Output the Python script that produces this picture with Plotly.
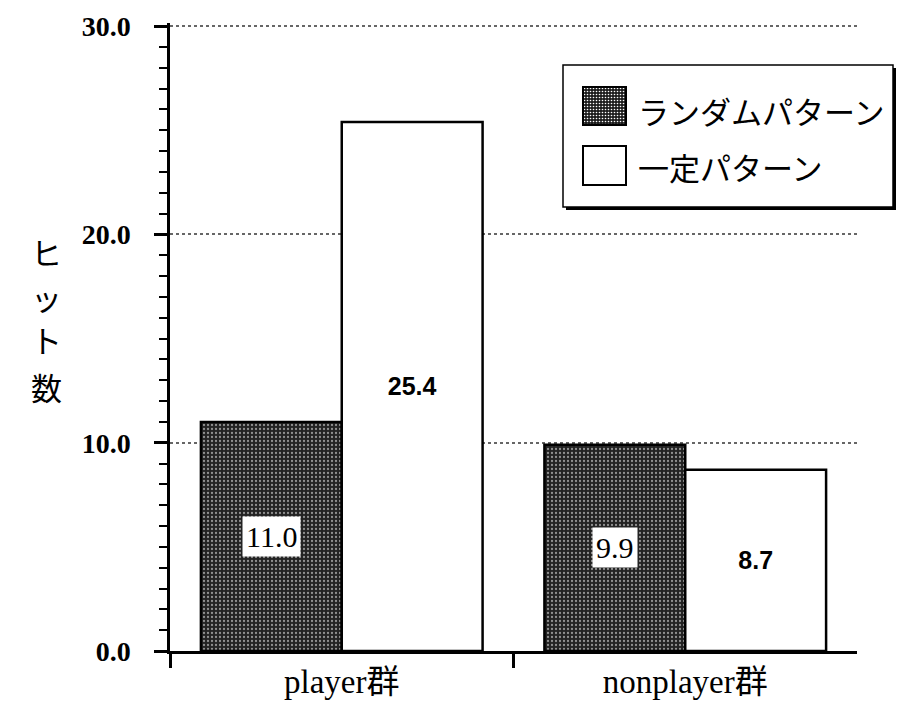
import base64
import plotly.graph_objects as go

categories = ["player群", "nonplayer群"]
series_names = ["ランダムパターン", "一定パターン"]
random_vals = [11.0, 9.9]
constant_vals = [25.4, 8.7]
y_tick_vals = [0, 10, 20, 30]
y_title_chars = ["ヒ", "ッ", "ト", "数"]

W, H = 902, 701
L, R, T, B = 170, 45, 23, 50
PW, PH = W - L - R, H - T - B
Y_MAX = 30.15
BARGAP = 0.18

x_pos = list(range(len(categories)))


def px_x(px):
    return (px - L) / PW


def px_y(py):
    return (H - B - py) / PH


SERIF = "Liberation Serif, Times New Roman, Noto Sans CJK JP, serif"
SANS = "Liberation Sans, Arial, sans-serif"
CJK = "Noto Sans CJK JP, sans-serif"

fig = go.Figure()
fig.add_trace(go.Bar(
    x=x_pos, y=random_vals, name=series_names[0],
    marker=dict(color="#222222",
                line=dict(color="black", width=2.5),
                pattern=dict(shape=".", fgcolor="white", bgcolor="#222222",
                             size=4, solidity=0.25, fillmode="overlay")),
    showlegend=False,
))
fig.add_trace(go.Bar(
    x=x_pos, y=constant_vals, name=series_names[1],
    marker=dict(color="white", line=dict(color="black", width=2.5)),
    texttemplate="%{y:.1f}", textposition="inside", insidetextanchor="middle",
    textangle=0,
    textfont=dict(family=SANS, size=25, color="black", weight="bold"),
    showlegend=False,
))

# white-box value labels for the patterned bars
cat_px = PW / len(categories)
offset_px = (1 - BARGAP) * cat_px / 4
for xp, v in zip(x_pos, random_vals):
    fig.add_annotation(x=xp, y=v / 2, xref="x", yref="y", xshift=-offset_px,
                       text=f"{v:.1f}", showarrow=False, bgcolor="white",
                       borderpad=3,
                       font=dict(family=SERIF, size=30, color="black"))

# y-axis title, stacked characters
for ch, py in zip(y_title_chars, [252, 296, 340, 386]):
    fig.add_annotation(x=px_x(29), y=px_y(py), xref="paper", yref="paper",
                       text=ch, showarrow=False, yanchor="middle",
                       font=dict(family=CJK, size=31, color="black"))

# custom legend
svg = ('<svg xmlns="http://www.w3.org/2000/svg" width="43" height="38">'
       '<defs><pattern id="p" width="3" height="3" patternUnits="userSpaceOnUse">'
       '<rect width="3" height="3" fill="#1e1e1e"/>'
       '<circle cx="1.5" cy="1.5" r="0.8" fill="white"/></pattern></defs>'
       '<rect width="43" height="38" fill="url(#p)"/></svg>')
svg_uri = "data:image/svg+xml;base64," + base64.b64encode(svg.encode()).decode()

shapes = []
shapes.append(dict(type="rect", xref="paper", yref="paper", layer="below",
                   x0=px_x(566), x1=px_x(896), y0=px_y(210), y1=px_y(68),
                   fillcolor="black", line=dict(width=0)))
shapes.append(dict(type="rect", xref="paper", yref="paper", layer="below",
                   x0=px_x(563), x1=px_x(893), y0=px_y(207), y1=px_y(65),
                   fillcolor="white", line=dict(color="black", width=1.5)))
shapes.append(dict(type="rect", xref="paper", yref="paper",
                   x0=px_x(583), x1=px_x(626), y0=px_y(125), y1=px_y(87),
                   fillcolor="rgba(0,0,0,0)", line=dict(color="black", width=2),
                   layer="above"))
shapes.append(dict(type="rect", xref="paper", yref="paper",
                   x0=px_x(583), x1=px_x(626), y0=px_y(185), y1=px_y(146),
                   fillcolor="white", line=dict(color="black", width=2)))
fig.update_layout(shapes=shapes)
fig.add_layout_image(dict(source=svg_uri, xref="paper", yref="paper",
                          x=px_x(583), y=px_y(87),
                          sizex=px_x(626) - px_x(583), sizey=px_y(87) - px_y(125),
                          xanchor="left", yanchor="top", sizing="stretch",
                          layer="above"))
for name, py in zip(series_names, [110, 166]):
    fig.add_annotation(x=px_x(636), y=px_y(py), xref="paper", yref="paper",
                       xanchor="left", yanchor="middle", text=name,
                       showarrow=False,
                       font=dict(family=CJK, size=31, color="black"))

fig.update_layout(
    width=W, height=H,
    margin=dict(l=L, r=R, t=T, b=B),
    paper_bgcolor="white", plot_bgcolor="rgba(0,0,0,0)",
    barmode="group", bargap=BARGAP, bargroupgap=0,
    showlegend=False,
    xaxis=dict(range=[-0.5, 1.5], tickvals=x_pos, ticktext=categories,
               ticks="", showline=True, linewidth=2.5, linecolor="black",
               showgrid=False, zeroline=False, automargin=False,
               minor=dict(tickvals=[-0.5, 0.5], ticks="outside", ticklen=14,
                          tickwidth=2.5, tickcolor="black", showgrid=False),
               ticklabelstandoff=0,
               tickfont=dict(family=SERIF, size=33, color="black")),
    yaxis=dict(range=[0, Y_MAX], tickvals=y_tick_vals, tickformat=".1f",
               ticks="outside", ticklen=13, tickwidth=2.5, tickcolor="black",
               showline=True, linewidth=2.5, linecolor="black",
               showgrid=True, gridcolor="#666666", griddash="dot", gridwidth=1.5,
               zeroline=False, ticklabelstandoff=18, automargin=False,
               minor=dict(dtick=1, ticks="outside", ticklen=8, tickwidth=2,
                          tickcolor="black", showgrid=False),
               tickfont=dict(family=SERIF, size=28, color="black", weight="bold")),
)

fig.write_html("out.html", config={"displayModeBar": False},
               post_script="document.body.style.margin='0';"
                           "document.body.style.overflow='hidden';")
